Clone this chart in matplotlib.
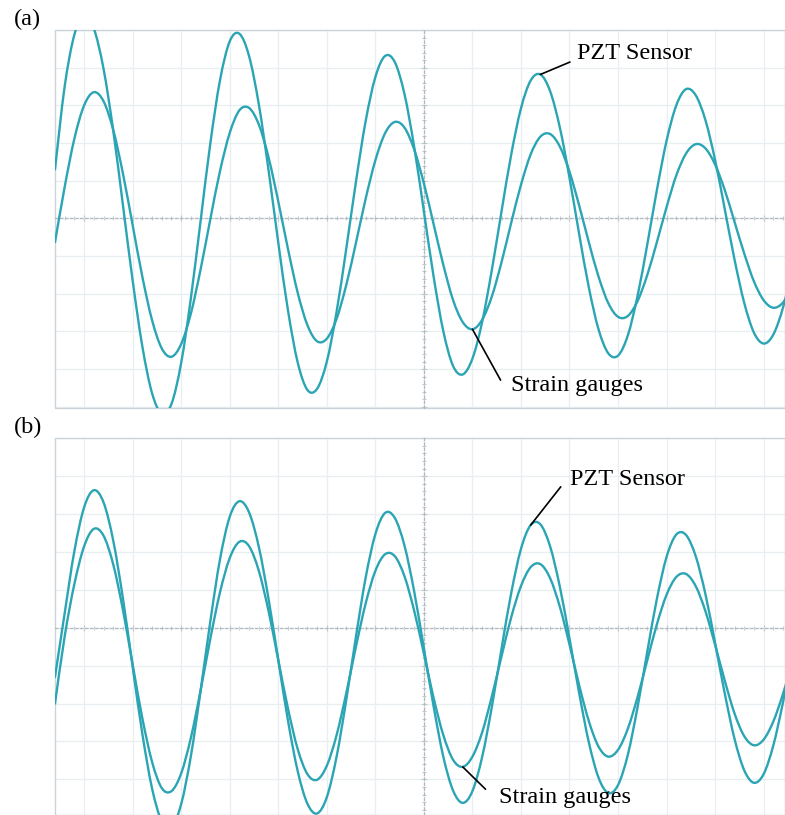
import numpy as np
import matplotlib
matplotlib.use("Agg")
import matplotlib.pyplot as plt
from matplotlib.ticker import MultipleLocator
from matplotlib.patches import Rectangle, PathPatch
from matplotlib.path import Path

####################################### trace data (screen divisions)
t = np.round(np.arange(-7.6, 7.61, 0.2), 1)  # sample positions, horizontal divisions from centre

# (a)
pzt_a = [1.30, 3.51, 4.88, 5.40, 5.04, 3.97, 2.33, 0.35, -1.65, -3.40,
         -4.64, -5.18, -4.92, -3.83, -2.11, -0.06, 1.99, 3.67, 4.70, 4.90,
         4.30, 3.02, 1.28, -0.64, -2.44, -3.82, -4.55, -4.52, -3.80, -2.49,
         -0.81, 0.97, 2.58, 3.75, 4.31, 4.15, 3.30, 1.90, 0.19, -1.54,
         -2.99, -3.91, -4.14, -3.72, -2.75, -1.37, 0.19, 1.70, 2.92, 3.66,
         3.82, 3.38, 2.42, 1.08, -0.42, -1.84, -2.95, -3.58, -3.64, -3.11,
         -2.07, -0.71, 0.75, 2.06, 3.00, 3.43, 3.27, 2.61, 1.55, 0.24,
         -1.09, -2.24, -3.03, -3.32, -3.08, -2.36, -1.26]
gauge_a = [-0.63, 0.84, 2.12, 3.00, 3.35, 3.11, 2.35, 1.19, -0.18, -1.55,
           -2.70, -3.45, -3.67, -3.33, -2.52, -1.35, -0.02, 1.26, 2.27, 2.87,
           2.93, 2.49, 1.62, 0.45, -0.81, -1.97, -2.83, -3.26, -3.19, -2.67,
           -1.77, -0.65, 0.52, 1.54, 2.26, 2.56, 2.41, 1.83, 0.93, -0.15,
           -1.23, -2.16, -2.75, -2.94, -2.69, -2.07, -1.16, -0.11, 0.89, 1.70,
           2.17, 2.24, 1.91, 1.24, 0.34, -0.64, -1.55, -2.25, -2.61, -2.59,
           -2.20, -1.51, -0.63, 0.30, 1.14, 1.72, 1.97, 1.86, 1.43, 0.75,
           -0.09, -0.93, -1.67, -2.17, -2.37, -2.23, -1.79]

# (b)
pzt_b = [-1.30, 0.39, 2.03, 3.18, 3.63, 3.31, 2.30, 0.77, -1.03, -2.80,
         -4.24, -5.11, -5.27, -4.65, -3.38, -1.66, 0.17, 1.81, 2.93, 3.34,
         3.04, 2.13, 0.76, -0.85, -2.45, -3.78, -4.64, -4.90, -4.47, -3.41,
         -1.91, -0.24, 1.32, 2.47, 3.03, 2.90, 2.17, 0.96, -0.54, -2.07,
         -3.40, -4.29, -4.62, -4.31, -3.41, -2.09, -0.55, 0.92, 2.08, 2.71,
         2.73, 2.15, 1.09, -0.28, -1.73, -3.03, -3.96, -4.36, -4.15, -3.36,
         -2.11, -0.65, 0.76, 1.87, 2.46, 2.45, 1.89, 0.89, -0.40, -1.74,
         -2.93, -3.76, -4.09, -3.86, -3.10, -1.96, -0.62]
gauge_b = [-2.00, -0.22, 1.16, 2.15, 2.61, 2.43, 1.67, 0.47, -0.97, -2.39,
           -3.54, -4.23, -4.31, -3.84, -2.90, -1.65, -0.29, 0.94, 1.84, 2.27,
           2.15, 1.50, 0.44, -0.85, -2.13, -3.20, -3.86, -4.01, -3.64, -2.84,
           -1.73, -0.50, 0.64, 1.50, 1.94, 1.89, 1.36, 0.45, -0.68, -1.85,
           -2.83, -3.48, -3.67, -3.40, -2.76, -1.81, -0.75, 0.28, 1.10, 1.60,
           1.68, 1.31, 0.56, -0.44, -1.52, -2.47, -3.14, -3.40, -3.22, -2.67,
           -1.84, -0.87, 0.09, 0.87, 1.34, 1.42, 1.10, 0.44, -0.45, -1.40,
           -2.26, -2.86, -3.10, -2.95, -2.47, -1.74, -0.88]

panel_labels = ['(a)', '(b)']
sensor_label = 'PZT Sensor'
gauge_label = 'Strain gauges'

####################################### style
plt.rcParams['font.family'] = ['Liberation Serif', 'DejaVu Serif']
trace = '#2ba5b4'
txt_size = 17.5

fig = plt.figure(figsize=(7.85, 8.15), dpi=100)
ax_a = fig.add_axes([55/785, 1-408/815, 730/785, 378/815])
ax_b = fig.add_axes([55/785, 0, 730/785, 376.7/815])


def scope(ax, ylo, yhi):
    ax.set_xlim(-7.6, 7.44)
    ax.set_ylim(ylo, yhi)
    ax.xaxis.set_major_locator(MultipleLocator(1))
    ax.yaxis.set_major_locator(MultipleLocator(1))
    ax.xaxis.set_minor_locator(MultipleLocator(0.2))
    ax.yaxis.set_minor_locator(MultipleLocator(0.2))
    ax.grid(which='major', color='#e8eff3', lw=0.9)
    ax.set_axisbelow(True)
    for s in ['top', 'right']:
        ax.spines[s].set_visible(False)
    for s in ['left', 'bottom']:
        ax.spines[s].set_position(('data', 0))
        ax.spines[s].set_linestyle((0, (2, 2)))
        ax.spines[s].set_color('#b0b9be')
        ax.spines[s].set_linewidth(0.9)
    ax.tick_params(which='both', direction='inout', colors='#c0c8cc',
                   labelleft=False, labelbottom=False)
    ax.tick_params(which='major', length=5, width=0.8)
    ax.tick_params(which='minor', length=3, width=0.7)
    ax.add_patch(Rectangle((0, 0), 1, 1, transform=ax.transAxes, fill=False,
                           ec='#ccd3d8', lw=1.0, clip_on=False, zorder=1))


def smooth_trace(ax, x, y):
    # curve through every sample (Catmull-Rom drawn as cubic Bezier pieces)
    p = np.column_stack([x, y])
    q = np.vstack([p[0], p, p[-1]])
    verts = [p[0]]
    codes = [Path.MOVETO]
    for i in range(len(p) - 1):
        c1 = q[i+1] + (q[i+2] - q[i]) / 6
        c2 = q[i+2] - (q[i+3] - q[i+1]) / 6
        verts += [c1, c2, q[i+2]]
        codes += [Path.CURVE4] * 3
    ax.add_patch(PathPatch(Path(verts, codes), fill=False, ec=trace,
                           lw=1.7, zorder=3, capstyle='round', joinstyle='round'))


scope(ax_a, -5.03, 5.0)
scope(ax_b, -4.94, 5.0)

####################################### traces
for ax, p, g in [(ax_a, pzt_a, gauge_a), (ax_b, pzt_b, gauge_b)]:
    smooth_trace(ax, t, p)
    smooth_trace(ax, t, g)

####################################### callouts
line = dict(arrowstyle='-', color='black', lw=1.2, shrinkA=0, shrinkB=0)

ax_a.annotate('', xy=(t[50], pzt_a[50]), xytext=(3.01, 4.15), arrowprops=line)
ax_a.text(3.15, 4.24, sensor_label, fontsize=txt_size, ha='left', va='baseline')
ax_a.annotate('', xy=(t[43], gauge_a[43]), xytext=(1.58, -4.29), arrowprops=line)
ax_a.text(1.79, -4.57, gauge_label, fontsize=txt_size, ha='left', va='baseline')

ax_b.annotate('', xy=(t[49], pzt_b[49]), xytext=(2.82, 3.72), arrowprops=line)
ax_b.text(3.01, 3.77, sensor_label, fontsize=txt_size, ha='left', va='baseline')
ax_b.annotate('', xy=(t[42], gauge_b[42]), xytext=(1.27, -4.26), arrowprops=line)
ax_b.text(1.55, -4.63, gauge_label, fontsize=txt_size, ha='left', va='baseline')

fig.text(27/785, 1-19/815, panel_labels[0], fontsize=txt_size, ha='center', va='center')
fig.text(28/785, 1-427/815, panel_labels[1], fontsize=txt_size, ha='center', va='center')

fig.savefig('out.png', dpi=100)
